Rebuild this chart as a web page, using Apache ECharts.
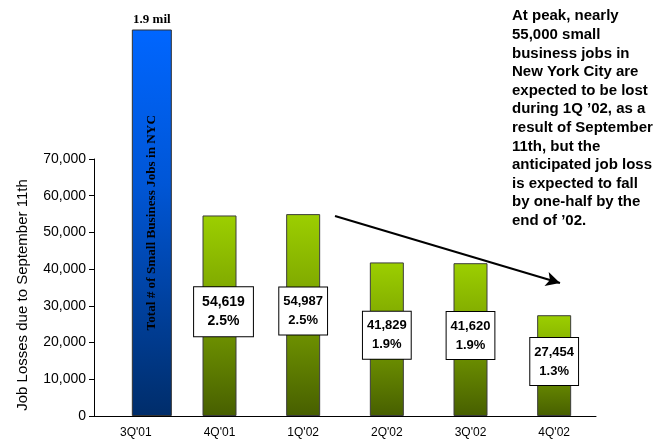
<!DOCTYPE html>
<html>
<head>
<meta charset="utf-8">
<script src="https://cdn.jsdelivr.net/npm/echarts@6/dist/echarts.min.js"></script>
<style>html,body{margin:0;padding:0;background:#fff;}#c{width:657px;height:440px;}</style>
</head>
<body>
<div id="c"></div>
<script>
// ---- data ----
const categories = ["3Q'01", "4Q'01", "1Q'02", "2Q'02", "3Q'02", "4Q'02"];
const jobLosses = [null, 54619, 54987, 41829, 41620, 27454];
const lossPct = [null, '2.5%', '2.5%', '1.9%', '1.9%', '1.3%'];
const totalJobs = [1900000, null, null, null, null, null];
const totalLabel = '1.9 mil';
const totalText = 'Total # of Small Business Jobs in NYC';
const yTicks = { min: 0, max: 70000, interval: 10000 };
const yTitle = 'Job Losses due to September 11th';
const note = ['At peak, nearly', '55,000 small', 'business jobs in', 'New York City are',
  'expected to be lost', 'during 1Q \u201902, as a', 'result of September', '11th, but the',
  'anticipated job loss', 'is expected to fall', 'by one-half by the', 'end of \u201902.'];

// ---- layout ----
const SANS = 'Liberation Sans, Arial, sans-serif';
const SERIF = 'Liberation Serif, Times New Roman, serif';
const W = 657, H = 440;
const gLeft = 94, gRight = 61, gTop = 159, gBottom = 24;
const blueShift = 16, blueTop = 30;
const plotH = H - gTop - gBottom;
const blueMax = yTicks.max * (H - blueTop - gBottom) / plotH;

const chart = echarts.init(document.getElementById('c'), null, { renderer: 'canvas' });

const greenData = jobLosses.map((v, i) => v == null ? '-' : {
  value: v,
  label: i === 1 ? { fontSize: 14, padding: [6, 8, 5, 8], offset: [4, -4] } : undefined
});

chart.setOption({
  animation: false,
  backgroundColor: '#fff',
  grid: [
    { left: gLeft, right: gRight, top: gTop, bottom: gBottom },
    { left: gLeft + blueShift, right: gRight - blueShift, top: blueTop, bottom: gBottom }
  ],
  xAxis: [
    {
      gridIndex: 0, type: 'category', data: categories,
      axisLine: { lineStyle: { color: '#000', width: 1 } },
      axisTick: { show: false },
      axisLabel: { color: '#000', fontFamily: SANS, fontSize: 12, margin: 11 }
    },
    {
      gridIndex: 1, type: 'category', data: categories, show: false
    }
  ],
  yAxis: [
    {
      gridIndex: 0, type: 'value', min: yTicks.min, max: yTicks.max, interval: yTicks.interval,
      name: yTitle, nameLocation: 'middle', nameRotate: 90, nameGap: 64,
      nameTextStyle: { color: '#000', fontFamily: SANS, fontSize: 15, padding: [0, 15, 0, 0] },
      axisLine: { show: true, lineStyle: { color: '#000', width: 1 } },
      axisTick: { show: true, length: 5, lineStyle: { color: '#000' } },
      axisLabel: {
        color: '#000', fontFamily: SANS, fontSize: 14, margin: 8,
        formatter: v => v.toLocaleString('en-US')
      },
      splitLine: { show: false }
    },
    {
      gridIndex: 1, type: 'value', min: 0, max: blueMax, show: false, splitLine: { show: false }
    }
  ],
  series: [
    {
      type: 'bar', xAxisIndex: 0, yAxisIndex: 0, data: greenData, barWidth: 34,
      itemStyle: {
        color: new echarts.graphic.LinearGradient(0, 0, 0, 1, [
          { offset: 0, color: '#9CCF00' },
          { offset: 0.5, color: '#769C00' },
          { offset: 1, color: '#475F00' }
        ]),
        borderColor: '#3c3c3c', borderWidth: 1
      },
      label: {
        show: true, position: 'inside', offset: [0, -4],
        formatter: p => p.value.toLocaleString('en-US') + '\n' + lossPct[p.dataIndex],
        color: '#000', fontFamily: SANS, fontWeight: 'bold', fontSize: 13, lineHeight: 19,
        backgroundColor: '#fff', borderColor: '#000', borderWidth: 1, padding: [5, 4, 4, 4]
      },
      markLine: {
        silent: true, symbol: ['none', 'arrow'], symbolSize: [11, 14],
        lineStyle: { color: '#000', width: 2, type: 'solid' },
        label: { show: false },
        data: [[{ x: 335, y: 216 }, { x: 560, y: 283 }]]
      }
    },
    {
      type: 'bar', xAxisIndex: 1, yAxisIndex: 1, data: totalJobs, barWidth: 40, clip: true,
      itemStyle: {
        color: new echarts.graphic.LinearGradient(0, 0, 0, 1, [
          { offset: 0, color: '#0066FF' },
          { offset: 0.4, color: '#0056D6' },
          { offset: 1, color: '#002D6A' }
        ]),
        borderColor: '#333', borderWidth: 1
      },
      label: {
        show: true, position: 'inside', rotate: 90, formatter: totalText,
        color: '#000', fontFamily: SERIF, fontWeight: 'bold', fontSize: 13.2
      }
    },
    {
      type: 'bar', xAxisIndex: 1, yAxisIndex: 1, data: totalJobs, barWidth: 40, barGap: '-100%', clip: true,
      itemStyle: { color: 'rgba(0,0,0,0)' },
      label: {
        show: true, position: 'top', distance: 4, formatter: totalLabel,
        color: '#000', fontFamily: SERIF, fontWeight: 'bold', fontSize: 13
      }
    }
  ],
  graphic: [
    {
      type: 'text', left: 512, top: 7,
      style: {
        text: note.join('\n'), fill: '#000', font: 'bold 15px ' + SANS, lineHeight: 18.6
      }
    }
  ]
});
</script>
</body>
</html>
